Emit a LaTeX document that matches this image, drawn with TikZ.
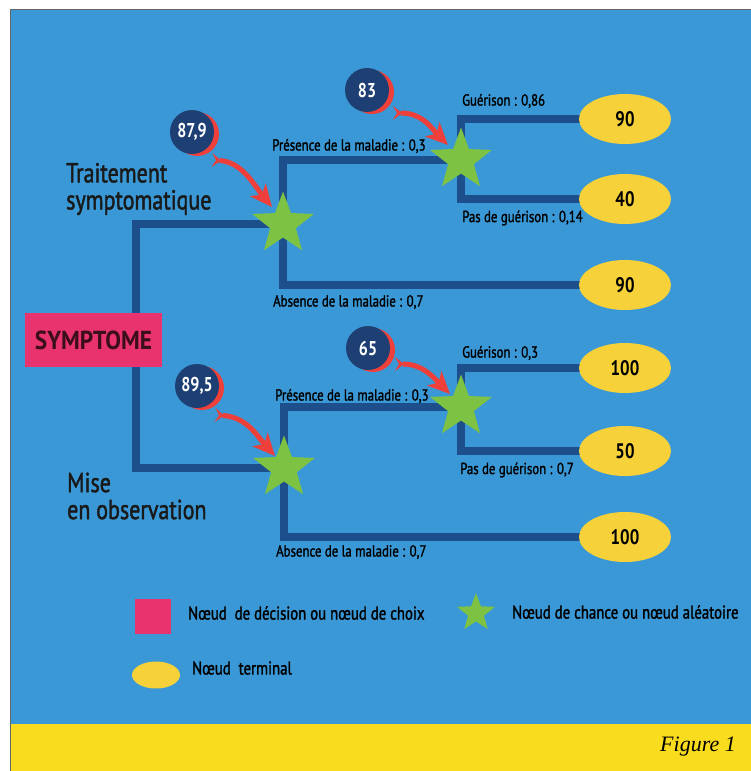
\documentclass[tikz,border=0pt]{standalone}
\usepackage{fontspec}
\setmainfont{PT Sans}[FakeStretch=0.8]
\newfontfamily\medfont{PT Sans}[FakeStretch=0.8, FakeBold=1.5]
\newfontfamily\symfont{PT Sans}[FakeStretch=0.9]
\newfontfamily\figfont{Liberation Serif}
\usetikzlibrary{shapes.geometric,arrows.meta,shadows,calc}
\definecolor{bgblue}{HTML}{3A98D6}
\definecolor{navyline}{HTML}{1C4F8C}
\definecolor{stargreen}{HTML}{7DC243}
\definecolor{ellyel}{HTML}{F6D13A}
\definecolor{bandyel}{HTML}{F9DC1E}
\definecolor{decpink}{HTML}{E8336E}
\definecolor{valnavy}{HTML}{1D3F74}
\definecolor{arrred}{HTML}{EE3F3A}
\definecolor{maroon}{HTML}{3A0E1A}
\pgfdeclarelayer{bg}
\pgfsetlayers{bg,main}
\begin{document}
\begin{tikzpicture}[x=1pt,y=-1pt,
  conn/.style={draw=navyline, line width=7.5pt},
  chance/.style={star, star points=5, star point ratio=2.4, fill=stargreen, inner sep=0pt, minimum size=65pt},
  term/.style={ellipse, fill=ellyel, minimum width=92pt, minimum height=50pt, inner sep=0pt, font=\fontsize{21}{21}\selectfont\bfseries},
  decision/.style={rectangle, fill=decpink, minimum width=137pt, minimum height=54pt, inner sep=0pt, text=maroon, font=\symfont\fontsize{26}{26}\selectfont\bfseries},
  lbl/.style={anchor=west, inner sep=0pt, text=black, font=\medfont\fontsize{16}{16}\selectfont},
  big/.style={anchor=west, inner sep=0pt, text=black!90, align=left, font=\medfont\fontsize{27.5}{27}\selectfont},
  leg/.style={anchor=west, inner sep=0pt, text=black, font=\medfont\fontsize{18.5}{18.5}\selectfont},
  valc/.style={circle, fill=valnavy, minimum size=44pt, inner sep=0pt, text=white, font=\fontsize{20}{20}\selectfont\bfseries,
    drop shadow={shadow xshift=5pt, shadow yshift=-2pt, fill=arrred, opacity=1}},
  redarr/.style={draw=arrred, line width=5pt,
    {Stealth[reversed,length=9pt,width=14pt,inset=4pt]}-{Stealth[length=22pt,width=20pt,inset=6pt]}}
]
\useasboundingbox (0,0) rectangle (751,771);
\begin{pgfonlayer}{bg}
\fill[white] (0,0) rectangle (751,771);
\fill[bgblue] (10,9) rectangle (751,724);
\fill[bandyel] (10,724) rectangle (751,771);
\draw[black!60, line width=0.8pt] (10,771) -- (10,9) -- (751,9);
\end{pgfonlayer}

% decision node
\node[decision] (dec) at (93.5,340) {SYMPTOME};
% chance nodes
\node[chance] (s1) at (283,224) {};
\node[chance] (s2) at (461,160) {};
\node[chance] (s3) at (284,468) {};
\node[chance] (s4) at (461,407) {};
% terminal nodes
\node[term] (e1) at (625,119) {90};
\node[term] (e2) at (625,199) {40};
\node[term] (e3) at (625,285) {90};
\node[term] (e4) at (625,368) {100};
\node[term] (e5) at (625,451) {50};
\node[term] (e6) at (625,537) {100};

\coordinate (tk) at (136,340);
\begin{pgfonlayer}{bg}
\draw[conn] (s1.center) -| (tk) |- (s3.center);
\draw[conn] (s2.center) -| (s1.center) |- (e3.center);
\draw[conn] (e1.center) -| (s2.center) |- (e2.center);
\draw[conn] (s4.center) -| (s3.center) |- (e6.center);
\draw[conn] (e4.center) -| (s4.center) |- (e5.center);
\end{pgfonlayer}

% value circles
\node[valc] (v1) at (192,132) {87,9};
\node[valc] (v2) at (367,90) {83};
\node[valc] (v3) at (197,386) {89,5};
\node[valc] (v4) at (368,348) {65};

% red arrows
\draw[redarr] ([shift={(20,28)}]v1.center) .. controls +(30,2) and +(-18,-22) .. ([shift={(-11,-17)}]s1.center);
\draw[redarr] ([shift={(26,23)}]v2.center) .. controls +(30,0) and +(-16,-16) .. ([shift={(-13,-15)}]s2.center);
\draw[redarr] ([shift={(18,29)}]v3.center) .. controls +(32,2) and +(-18,-20) .. ([shift={(-9,-12)}]s3.center);
\draw[redarr] ([shift={(27,16)}]v4.center) .. controls +(28,0) and +(-16,-16) .. ([shift={(-11,-13)}]s4.center);

% labels
\node[lbl] (l1) at (272,146) {Présence de la maladie : 0,3};
\node[lbl] (l2) at (462,101) {Guérison : 0,86};
\node[lbl] (l3) at (462,218) {Pas de guérison : 0,14};
\node[lbl] (l4) at (273,302) {Absence de la maladie : 0,7};
\node[lbl] (l5) at (275,396) {Présence de la maladie : 0,3};
\node[lbl] (l6) at (462,353) {Guérison : 0,3};
\node[lbl] (l7) at (460,470) {Pas de guérison : 0,7};
\node[lbl] (l8) at (276,552) {Absence de la maladie : 0,7};

\node[big] (t1) at (66,189) {Traitement\\symptomatique};
\node[big] (t2) at (67,496) {Mise\\en observation};

% legend
\node[rectangle, fill=decpink, minimum width=36pt, minimum height=35pt, inner sep=0pt] (lp) at (153,616) {};
\node[leg] (lpt) at (188,613) {Nœud~~de décision ou nœud de choix};
\node[chance, minimum size=40pt] (ls) at (476,613) {};
\node[leg] (lst) at (512,612) {Nœud de chance ou nœud aléatoire};
\node[ellipse, fill=ellyel, minimum width=48pt, minimum height=27pt, inner sep=0pt] (le) at (156,675) {};
\node[leg] (let) at (192,668) {Nœud~~terminal};

\node[anchor=east, inner sep=0pt, font=\figfont\itshape\fontsize{22}{22}\selectfont] (fig) at (736,747) {Figure 1};
\end{tikzpicture}
\end{document}
